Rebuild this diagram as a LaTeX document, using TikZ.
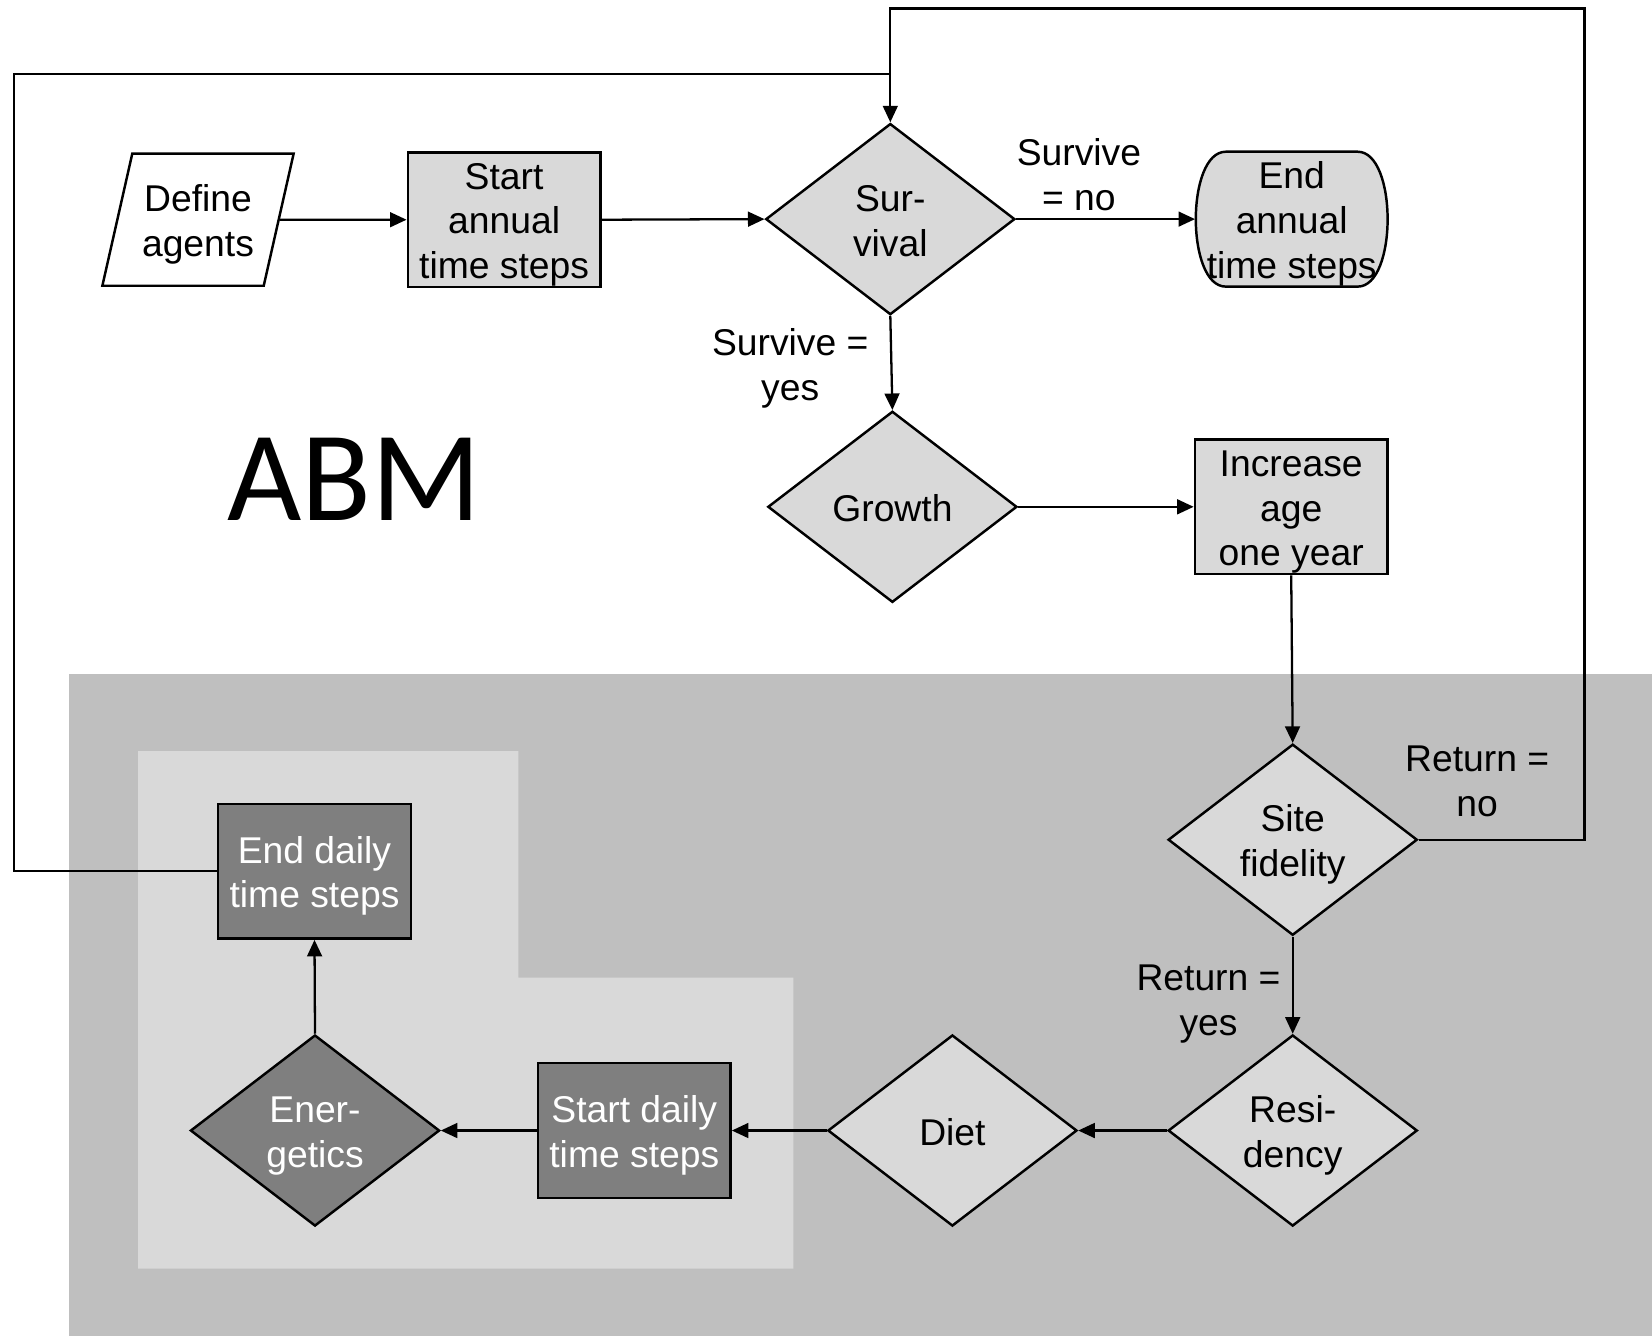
\documentclass[tikz,border=0pt]{standalone}
\usepackage{fontspec}
\setmainfont{Liberation Sans}
\newfontfamily\abmfont{Carlito}
\usetikzlibrary{shapes.geometric,arrows.meta}
\definecolor{lightfill}{HTML}{D9D9D9}
\definecolor{darkfill}{HTML}{7F7F7F}
\definecolor{bggray}{HTML}{BFBFBF}
\newcommand\mystrut{\rule[-2pt]{0pt}{12.3pt}}
\begin{document}
\begin{tikzpicture}[x=0.01cm,y=-0.01cm,
  font=\fontsize{10.6}{12.75}\selectfont,
  box/.style={draw, line width=0.7pt, minimum width=1.925cm, minimum height=1.345cm, inner sep=0pt, align=center},
  lbox/.style={box, fill=lightfill},
  dbox/.style={box, fill=darkfill, text=white},
  dia/.style={diamond, draw, line width=0.7pt, minimum width=2.49cm, minimum height=1.91cm, inner sep=0pt, aspect=1.3, align=center},
  ldia/.style={dia, fill=lightfill},
  ddia/.style={dia, fill=darkfill, text=white},
  arr/.style={-{Triangle[length=4.7pt,width=4.2pt]}, line width=0.65pt},
  ln/.style={line width=0.65pt},
  lab/.style={align=center, inner sep=0pt}]
\useasboundingbox (0,0) rectangle (1652,1341);
% backgrounds
\fill[bggray] (68.5,674.3) rectangle (1652,1336);
\fill[lightfill] (138,751.2) -- (518.4,751.2) -- (518.4,977.7) -- (793.3,977.7) -- (793.3,1268.5) -- (138,1268.5) -- cycle;
% end annual shape
\filldraw[fill=lightfill, line width=0.7pt] (1225.8,151.7) -- (1357.6,151.7) .. controls (1397.6,151.7) and (1397.6,286.6) .. (1357.6,286.6) -- (1225.8,286.6) .. controls (1185.8,286.6) and (1185.8,151.7) .. (1225.8,151.7) -- cycle;
% nodes
\node[trapezium, trapezium left angle=74, trapezium right angle=106, trapezium stretches=true, draw, fill=white, line width=0.7pt, minimum width=1.92cm, minimum height=1.32cm, inner sep=0pt, align=center] (def) at (198,219.7) {\mystrut Define\\\mystrut agents};
\node[lbox] (start) at (504.1,219.7) {\mystrut Start\\\mystrut annual\\\mystrut time steps};
\node[ldia] (surv) at (890.3,219.1) {\mystrut Sur-\\\mystrut vival};
\node[lab, minimum width=1.918cm, minimum height=1.349cm] (endA) at (1291.7,219.1) {\mystrut End\\\mystrut annual\\\mystrut time steps};
\node[ldia] (grow) at (892.4,506.8) {\mystrut Growth};
\node[lbox] (incr) at (1291.2,506.8) {\mystrut Increase\\\mystrut age\\\mystrut one year};
\node[ldia] (site) at (1292.7,839.7) {\mystrut Site\\\mystrut fidelity};
\node[ldia] (resi) at (1292.7,1130.5) {\mystrut Resi-\\\mystrut dency};
\node[ldia] (diet) at (952.4,1130.5) {\mystrut Diet};
\node[dbox] (sday) at (634.3,1130.5) {\mystrut Start daily\\\mystrut time steps};
\node[ddia] (ener) at (315,1130.5) {\mystrut Ener-\\\mystrut getics};
\node[dbox] (eday) at (314.5,871.3) {\mystrut End daily\\\mystrut time steps};
\node[inner sep=0pt, font=\abmfont\fontsize{36.5}{40}\selectfont] (abm) at (354,479.4) {ABM};
% labels
\node[lab] (lno) at (1078.9,173.8) {\mystrut Survive\\\mystrut = no};
\node[lab] (lyes) at (790.2,363.5) {\mystrut Survive =\\\mystrut yes};
\node[lab] (rno) at (1477.1,779.6) {\mystrut Return =\\\mystrut no};
\node[lab] (ryes) at (1208.5,998.8) {\mystrut Return =\\\mystrut yes};
% coordinates for loops
\coordinate (cR) at (1584.6,8.4);
\coordinate (cT) at (890.3,8.4);
\coordinate (cL) at (13.7,73.75);
\coordinate (cJ) at (890.3,73.75);
% connectors
\draw[arr] (def.east) -- (start.west);
\draw[arr] (start.east) -- (surv.west);
\draw[arr] (surv.east) -- (endA.west);
\draw[arr] (surv.south) -- (grow.north);
\draw[arr] (grow.east) -- (incr.west);
\draw[arr] (incr.south) -- (site.north);
\draw[arr] (site.south) -- (resi.north);
\draw[arr] (resi.west) -- (diet.east);
\draw[arr] (diet.west) -- (sday.east);
\draw[arr] (sday.west) -- (ener.east);
\draw[arr] (ener.north) -- (eday.south);
\draw[arr] (site.east) -| (cR) -- (cT) -- (surv.north);
\draw[ln] (eday.west) -| (cL) -- (cJ);
\end{tikzpicture}
\end{document}
